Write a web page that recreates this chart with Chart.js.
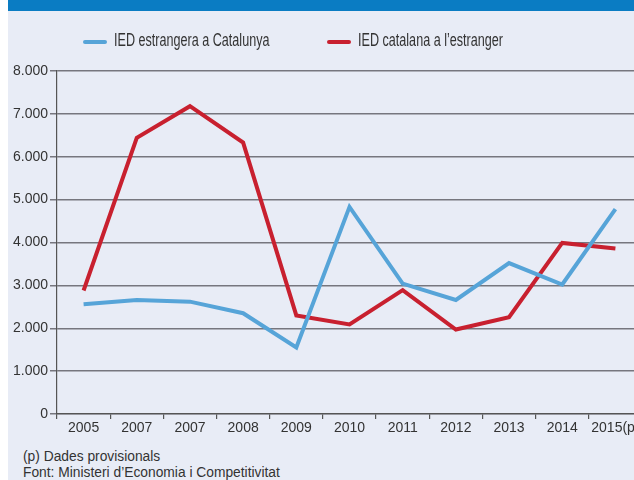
<!DOCTYPE html>
<html>
<head>
<meta charset="utf-8">
<script src="https://cdn.jsdelivr.net/npm/chart.js@4/dist/chart.umd.min.js"></script>
<style>
    html, body { margin: 0; padding: 0; background: #fff; }
    body { width: 634px; height: 480px; overflow: hidden; position: relative; }
    #panel { position: absolute; left: 8px; top: 0; width: 700px; height: 480px; background: #e8ecf6; }
    #header { position: absolute; left: 8px; top: 0; width: 700px; height: 11px; background: #0a7cc3; }
    #legend { position: absolute; left: 0; top: 31px; width: 634px; height: 22px;
              font: 17.5px 'Liberation Sans', Arial, sans-serif; color: #333; }
    #legend .item { position: absolute; top: 0; display: flex; align-items: center; gap: 7px; line-height: 22px; white-space: nowrap; }
    #legend .item:nth-child(1) { left: 83px; }
    #legend .item:nth-child(2) { left: 327px; }
    #legend .swatch { width: 24px; height: 4px; border-radius: 2px; flex: none; }
    #legend .text { display: inline-block; position: relative; top: -2px; transform: scaleX(0.72); transform-origin: left center; }
    #box { position: absolute; left: 0; top: 0; }
    #notes { position: absolute; left: 23px; top: 449px; font: 13.8px 'Liberation Sans', Arial, sans-serif;
             color: #333; line-height: 16px; }
</style>
</head>
<body>
<div id="panel"></div>
<div id="header"></div>
<div id="box"><canvas id="chart" width="660" height="445"></canvas></div>
<div id="legend"></div>
<div id="notes">(p) Dades provisionals<br>Font: Ministeri d’Economia i Competitivitat</div>
<script>
'use strict';

const years = ['2005', '2007', '2007', '2008', '2009', '2010', '2011', '2012', '2013', '2014', '2015(p)'];
const iedEstrangera = [2560, 2660, 2620, 2350, 1550, 4830, 3040, 2660, 3520, 3020, 4780];
const iedCatalana = [2880, 6440, 7180, 6330, 2300, 2090, 2890, 1970, 2260, 3990, 3860];
const seriesNames = ['IED estrangera a Catalunya', 'IED catalana a l’estranger'];
const seriesColors = ['#56a4d8', '#c8202f'];
const yMin = 0, yMax = 8000, yStep = 1000;

const tickFont = {family: "'Liberation Sans', Arial, sans-serif", size: 14};

function thousands(v) {
    return String(v).replace(/\B(?=(\d{3})+(?!\d))/g, '.');
}

const chart = new Chart(document.getElementById('chart').getContext('2d'), {
    type: 'line',
    data: {
        labels: years,
        datasets: [
            {label: seriesNames[0], data: iedEstrangera, borderColor: seriesColors[0], backgroundColor: seriesColors[0]},
            {label: seriesNames[1], data: iedCatalana, borderColor: seriesColors[1], backgroundColor: seriesColors[1]}
        ]
    },
    options: {
        responsive: false,
        animation: false,
        devicePixelRatio: 1,
        layout: {padding: {top: 71, right: 18, left: 0, bottom: 0}},
        elements: {
            line: {borderWidth: 4, tension: 0, borderCapStyle: 'butt'},
            point: {radius: 0, hoverRadius: 0}
        },
        plugins: {legend: {display: false}, tooltip: {enabled: false}},
        scales: {
            x: {
                offset: true,
                grid: {offset: true, drawOnChartArea: false, drawTicks: true, tickLength: 5, color: '#555', lineWidth: 1.2},
                border: {color: '#555', width: 1.2},
                ticks: {color: '#333', font: tickFont, padding: 1, maxRotation: 0, autoSkip: false},
                afterFit: function (scale) { scale.height = 31; }
            },
            y: {
                min: yMin,
                max: yMax,
                grid: {color: '#76767e', lineWidth: 1.5, tickLength: 7},
                border: {color: '#555', width: 1.2},
                ticks: {stepSize: yStep, color: '#333', font: tickFont, padding: 2, callback: thousands},
                afterFit: function (scale) { scale.width = 57; }
            }
        }
    }
});

// html legend built from the datasets
const legend = document.getElementById('legend');
chart.data.datasets.forEach(function (ds) {
    const item = document.createElement('div');
    item.className = 'item';
    const sw = document.createElement('span');
    sw.className = 'swatch';
    sw.style.background = ds.borderColor;
    const txt = document.createElement('span');
    txt.className = 'text';
    txt.textContent = ds.label;
    item.appendChild(sw);
    item.appendChild(txt);
    legend.appendChild(item);
});
</script>
</body>
</html>
